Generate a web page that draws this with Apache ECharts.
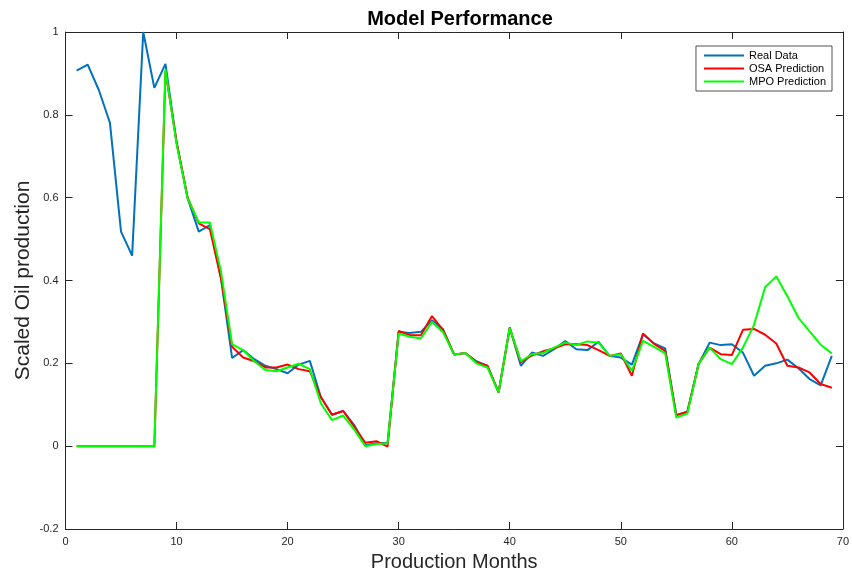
<!DOCTYPE html>
<html><head><meta charset="utf-8">
<script src="https://cdn.jsdelivr.net/npm/echarts@6/dist/echarts.min.js"></script>
<style>html,body{margin:0;padding:0;background:#fff}#c{width:852px;height:577px}</style>
</head><body><div id="c"></div>
<script>
const months = [1,2,3,4,5,6,7,8,9,10,11,12,13,14,15,16,17,18,19,20,21,22,23,24,25,26,27,28,29,30,31,32,33,34,35,36,37,38,39,40,41,42,43,44,45,46,47,48,49,50,51,52,53,54,55,56,57,58,59,60,61,62,63,64,65,66,67,68,69];
const realData = [0.907,0.921,0.86,0.781,0.518,0.46,1.0,0.865,0.923,0.733,0.598,0.518,0.534,0.406,0.213,0.232,0.21,0.194,0.186,0.176,0.197,0.206,0.118,0.076,0.085,0.051,0.002,0.007,0.008,0.276,0.273,0.276,0.304,0.282,0.221,0.225,0.205,0.194,0.13,0.287,0.194,0.226,0.218,0.234,0.254,0.234,0.232,0.252,0.218,0.214,0.197,0.27,0.248,0.236,0.075,0.083,0.198,0.25,0.244,0.246,0.226,0.17,0.194,0.2,0.209,0.188,0.162,0.147,0.218];
const osaPred = [0,0,0,0,0,0,0,0,0.905,0.735,0.6,0.538,0.524,0.405,0.24,0.214,0.205,0.19,0.19,0.197,0.186,0.181,0.118,0.076,0.085,0.047,0.008,0.012,-0.001,0.278,0.268,0.268,0.314,0.28,0.221,0.225,0.203,0.194,0.13,0.285,0.203,0.219,0.229,0.236,0.246,0.246,0.244,0.232,0.218,0.224,0.17,0.272,0.247,0.23,0.075,0.083,0.198,0.238,0.222,0.22,0.281,0.283,0.269,0.248,0.194,0.19,0.178,0.15,0.141];
const mpoPred = [0,0,0,0,0,0,0,0,0.91,0.73,0.598,0.54,0.54,0.422,0.246,0.232,0.205,0.184,0.181,0.19,0.199,0.186,0.103,0.063,0.074,0.04,0.0,0.005,0.007,0.272,0.264,0.26,0.30,0.275,0.221,0.225,0.2,0.19,0.13,0.285,0.205,0.222,0.225,0.238,0.25,0.244,0.253,0.25,0.218,0.222,0.182,0.254,0.24,0.224,0.069,0.079,0.198,0.238,0.21,0.198,0.238,0.293,0.384,0.41,0.362,0.31,0.277,0.245,0.224];
const xTicks = [0,10,20,30,40,50,60,70];
const yTicks = [-0.2,0,0.2,0.4,0.6,0.8,1];

const pairs = arr => months.map((m,i)=>[m,arr[i]]);
const axCol = '#262626';
const font = 'Liberation Sans, Arial, sans-serif';
const chart = echarts.init(document.getElementById('c'), null, {renderer:'canvas'});
const baseX = {type:'value', min:xTicks[0], max:xTicks[xTicks.length-1], interval:10,
  axisLine:{show:true,onZero:false,lineStyle:{color:axCol,width:1}},
  axisTick:{show:true,inside:true,length:7,lineStyle:{color:axCol}},
  splitLine:{show:false}};
const baseY = {type:'value', min:yTicks[0], max:yTicks[yTicks.length-1], interval:0.2,
  axisLine:{show:true,onZero:false,lineStyle:{color:axCol,width:1}},
  axisTick:{show:true,inside:true,length:7,lineStyle:{color:axCol}},
  splitLine:{show:false}};
chart.setOption({
  animation:false,
  textStyle:{fontFamily:font},
  title:{text:'Model Performance', left:455, textAlign:'center', top:4,
    textStyle:{fontSize:20,fontWeight:'bold',color:'#000',fontFamily:font}},
  grid:{left:65.5, right:7, top:32, bottom:44, containLabel:false},
  legend:{orient:'vertical', right:20, top:46, itemWidth:40, itemHeight:2, itemGap:0,
    icon:'rect',
    borderColor:axCol, borderWidth:0.8, padding:[3,6,3,8], backgroundColor:'#fff',
    textStyle:{fontSize:11,color:'#000',lineHeight:13,padding:[0,0,0,0]},
    data:['Real Data','OSA Prediction','MPO Prediction']},
  xAxis:[
    Object.assign({}, baseX, {position:'bottom', name:'Production Months', nameLocation:'middle', nameGap:23,
      nameMoveOverlap:false,
      nameTextStyle:{fontSize:20,color:'#262626'},
      axisLabel:{color:'#262626',fontSize:11,margin:7,
        formatter:v=>xTicks.includes(v)?String(v):''}}),
    Object.assign({}, baseX, {position:'top', axisLabel:{show:false}})
  ],
  yAxis:[
    Object.assign({}, baseY, {position:'left', name:'Scaled Oil production', nameLocation:'middle', nameGap:32,
      nameMoveOverlap:false,
      nameTextStyle:{fontSize:21,color:'#262626'},
      axisLabel:{color:'#262626',fontSize:11,margin:7,
        formatter:v=>{const r=Math.round(v*10)/10; return r===0?'0':String(r);}}}),
    Object.assign({}, baseY, {position:'right', axisLabel:{show:false}})
  ],
  series:[
    {name:'Real Data', type:'line', data:pairs(realData), symbol:'none', lineStyle:{color:'#0072BD',width:2}, itemStyle:{color:'#0072BD'}},
    {name:'OSA Prediction', type:'line', data:pairs(osaPred), symbol:'none', lineStyle:{color:'#FF0000',width:2}, itemStyle:{color:'#FF0000'}},
    {name:'MPO Prediction', type:'line', data:pairs(mpoPred), symbol:'none', lineStyle:{color:'#00FF00',width:2}, itemStyle:{color:'#00FF00'}}
  ]
});
</script></body></html>
